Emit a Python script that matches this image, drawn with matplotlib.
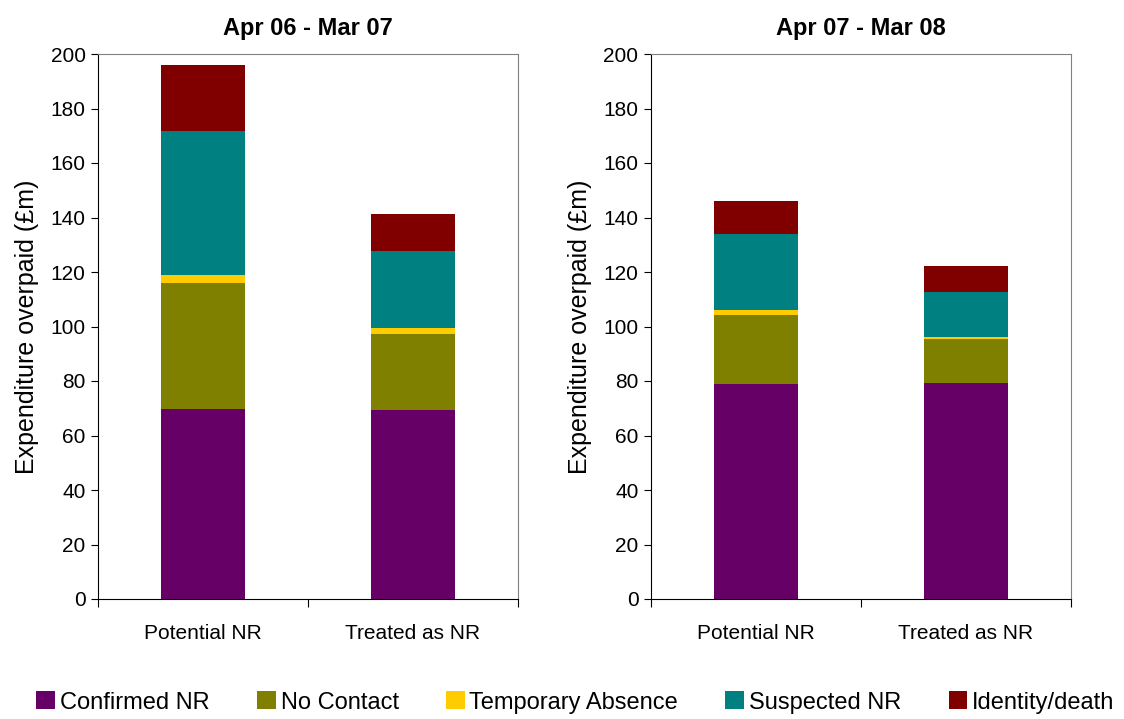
import numpy as np
import matplotlib
matplotlib.use("Agg")
import matplotlib.pyplot as plt
from matplotlib.patches import Patch

plt.rcParams['font.family'] = ['Liberation Sans', 'DejaVu Sans']

categories = ["Potential NR", "Treated as NR"]
periods = ["Apr 06 - Mar 07", "Apr 07 - Mar 08"]
series = ["Confirmed NR", "No Contact", "Temporary Absence", "Suspected NR", "Identity/death"]
colors = ["#660066", "#808000", "#FFCC00", "#008080", "#800000"]

# values per period, per series (Potential NR, Treated as NR)
confirmed_0607 = [69.7, 69.4]
no_contact_0607 = [46.3, 27.8]
temp_abs_0607 = [2.9, 2.2]
suspected_0607 = [52.8, 28.3]
identity_0607 = [24.3, 13.6]

confirmed_0708 = [78.9, 79.3]
no_contact_0708 = [25.3, 16.1]
temp_abs_0708 = [1.9, 0.9]
suspected_0708 = [27.8, 16.4]
identity_0708 = [12.2, 9.5]

data = [
    [confirmed_0607, no_contact_0607, temp_abs_0607, suspected_0607, identity_0607],
    [confirmed_0708, no_contact_0708, temp_abs_0708, suspected_0708, identity_0708],
]

fig = plt.figure(figsize=(11.24, 7.19), dpi=100)
lefts = [98 / 1124, 651 / 1124]
for p in range(2):
    ax = fig.add_axes([lefts[p], 1 - 599 / 719, 420 / 1124, 545 / 719])
    x = np.arange(len(categories)) + 0.5
    bottom = np.zeros(len(categories))
    for vals, c in zip(data[p], colors):
        ax.bar(x, vals, width=0.4, bottom=bottom, color=c, linewidth=0)
        bottom += np.array(vals)
    ax.set_xlim(0, 2)
    ax.set_ylim(0, 200)
    ax.set_yticks(range(0, 201, 20))
    ax.set_xticks([0, 1, 2])
    ax.set_xticklabels([])
    ax.set_xticks(x, minor=True)
    ax.set_xticklabels(categories, minor=True, fontsize=15)
    ax.tick_params(axis='x', which='minor', length=0, pad=18)
    ax.tick_params(axis='x', which='major', length=6, direction='out', color='black')
    ax.tick_params(axis='y', length=5, direction='out', labelsize=15, pad=4)
    for s in ['top', 'right']:
        ax.spines[s].set_color('#808080')
    for s in ['left', 'bottom']:
        ax.spines[s].set_color('black')
    ax.set_ylabel("Expenditure overpaid (£m)", fontsize=18, labelpad=8)
    ax.set_title(periods[p], fontsize=17, fontweight='bold', pad=14)

handles = [Patch(facecolor=c, label=s) for s, c in zip(series, colors)]
fig.legend(handles=handles, loc='lower center', ncol=5, frameon=False,
           fontsize=17, bbox_to_anchor=(0.512, -0.022), handlelength=0.8,
           handleheight=0.8, handletextpad=0.2, columnspacing=2.0)

plt.savefig("out.png", dpi=100)
